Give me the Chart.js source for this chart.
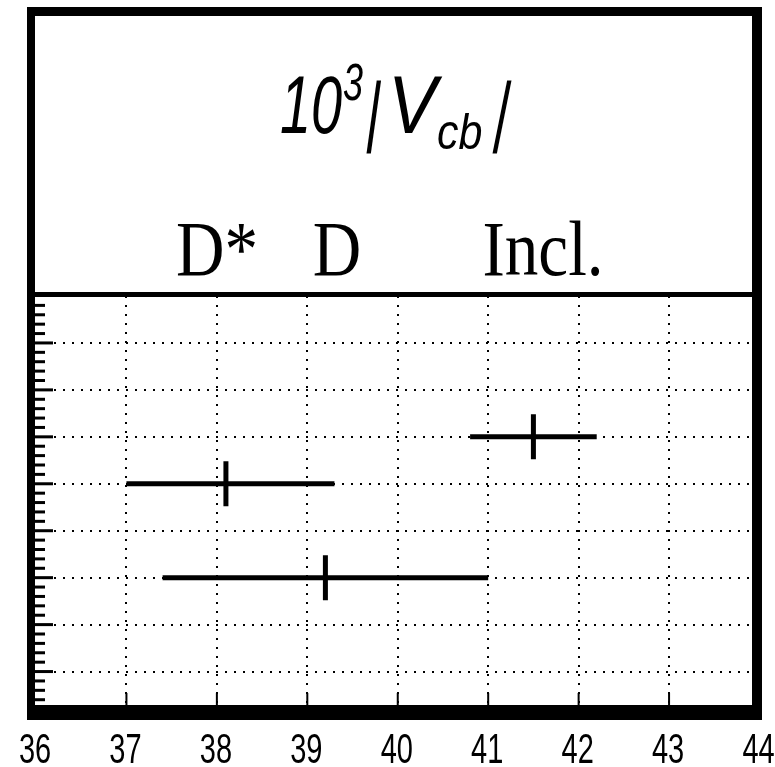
<!DOCTYPE html>
<html>
<head>
<meta charset="utf-8">
<title>Vcb</title>
<script src="https://cdn.jsdelivr.net/npm/chart.js@4/dist/chart.umd.min.js"></script>
<style>
  body { margin: 0; background: #fff; }
  #chart-box { width: 775px; height: 767px; }
</style>
</head>
<body>
<div id="chart-box"><canvas id="vcb-chart"></canvas></div>
<script>
'use strict';

// Measurements of 10^3 |Vcb|

const labels = ['D*', 'D', 'Incl.'];
const rows = [5, 3, 6];
const centers = [38.1, 39.2, 41.5];
const lows = [37.0, 37.4, 40.8];
const highs = [39.3, 41.0, 42.2];
const xTicks = [36, 37, 38, 39, 40, 41, 42, 43, 44];
const yMin = 0;
const yMax = 9;

// Half height of the little vertical mark at each central value
const markHalf = 0.48;

// Where the method names sit in the header box (px)
const nameX = [217, 337, 543];

// Build the error bars: one horizontal line per range, one short vertical line at the centre

function lineStyle(name, points) {
    return {
        label: name,
        data: points,
        showLine: true,
        borderColor: '#000',
        borderWidth: 5,
        borderCapStyle: 'butt',
        pointRadius: 0,
        fill: false
    };
}

function errorBars() {
    let sets = [];
    for (let i = 0; i < labels.length; i++) {
        sets.push(lineStyle(labels[i], [
            {x: lows[i], y: rows[i]},
            {x: highs[i], y: rows[i]}
        ]));
        sets.push(lineStyle(labels[i] + ' centre', [
            {x: centers[i], y: rows[i] - markHalf},
            {x: centers[i], y: rows[i] + markHalf}
        ]));
    }
    return sets;
}

// Hide the grid lines that fall on the frame

function innerGrid(min, max) {
    return function (ctx) {
        let v = ctx.tick ? ctx.tick.value : min;
        return (v <= min || v >= max) ? 'rgba(0,0,0,0)' : '#000';
    };
}

// Text drawn squeezed horizontally (and leaned over when skew is given)

function squeezed(ctx, text, x, y, font, sx, align, skew) {
    ctx.save();
    ctx.font = font;
    ctx.textAlign = align || 'left';
    ctx.textBaseline = 'alphabetic';
    ctx.fillStyle = '#000';
    ctx.translate(x, y);
    if (skew) {
        ctx.transform(1, 0, -skew, 1, 0, 0);
    }
    ctx.scale(sx, 1);
    ctx.fillText(text, 0, 0);
    ctx.restore();
}

// Frame, header, axis ticks and numbers

const framePlugin = {
    id: 'frame',
    afterDraw(chart) {
        let ctx = chart.ctx;
        let xs = chart.scales.x;
        let ys = chart.scales.y;

        ctx.save();
        ctx.strokeStyle = '#000';
        ctx.lineCap = 'butt';

        // small ticks on the left edge, longer ones on whole numbers
        ctx.lineWidth = 3;
        for (let k = 1; k < (yMax - yMin) * 5; k++) {
            let v = yMin + k / 5;
            let py = ys.getPixelForValue(v);
            let whole = k % 5 === 0;
            ctx.beginPath();
            ctx.moveTo(34, py);
            ctx.lineTo(whole ? 53 : 45, py);
            ctx.stroke();
        }

        // ticks standing on the bottom axis
        ctx.lineWidth = 2;
        for (let i = 1; i < xTicks.length - 1; i++) {
            let px = xs.getPixelForValue(xTicks[i]);
            ctx.beginPath();
            ctx.moveTo(px, 706);
            ctx.lineTo(px, 693);
            ctx.stroke();
        }

        // outer frame
        ctx.fillStyle = '#000';
        ctx.fillRect(27, 7, 735, 9);
        ctx.fillRect(27, 7, 8, 713);
        ctx.fillRect(752, 7, 10, 713);
        ctx.fillRect(27, 705, 735, 15);
        ctx.fillRect(27, 292, 735, 5);
        ctx.restore();

        // axis numbers
        for (let i = 0; i < xTicks.length; i++) {
            let px = xs.getPixelForValue(xTicks[i]);
            squeezed(ctx, String(xTicks[i]), px - 1, 763, '42px "Liberation Sans"', 0.69, 'center');
        }

        // header: 10^3 |Vcb|
        let big = 'italic 81px "Liberation Sans"';
        squeezed(ctx, '10', 280, 133, big, 0.69);
        squeezed(ctx, '3', 343, 100, 'italic 52px "Liberation Sans"', 0.69);
        squeezed(ctx, '|', 364, 137, '78px "Liberation Sans"', 0.69, 'left', 0.14);
        squeezed(ctx, 'V', 388, 133, big, 0.9);
        squeezed(ctx, 'cb', 437, 149, 'italic 50px "Liberation Sans"', 0.86);
        squeezed(ctx, '|', 491, 137, '78px "Liberation Sans"', 0.69, 'left', 0.2);

        // method names
        for (let i = 0; i < labels.length; i++) {
            squeezed(ctx, labels[i], nameX[i], 275, '79px "Liberation Serif"', 0.85, 'center');
        }
    }
};

// Draw the chart

let chartEl = document.getElementById('vcb-chart');

let vcbChart = new Chart(chartEl.getContext('2d'), {
    type: 'scatter',
    data: {datasets: errorBars()},
    options: {
        responsive: true,
        maintainAspectRatio: false,
        animation: false,
        events: [],
        layout: {
            padding: {left: 36, right: 15.5, top: 296, bottom: 48.5}
        },
        scales: {
            x: {
                type: 'linear',
                min: xTicks[0],
                max: xTicks[xTicks.length - 1],
                ticks: {display: false, stepSize: 1},
                grid: {color: innerGrid(xTicks[0], xTicks[xTicks.length - 1]), lineWidth: 2, drawTicks: false},
                border: {display: false, dash: [2, 7]}
            },
            y: {
                type: 'linear',
                min: yMin,
                max: yMax,
                ticks: {display: false, stepSize: 1},
                grid: {color: innerGrid(yMin, yMax), lineWidth: 2, drawTicks: false},
                border: {display: false, dash: [2, 7]}
            }
        },
        plugins: {
            legend: {display: false},
            tooltip: {enabled: false}
        }
    },
    plugins: [framePlugin]
});
</script>
</body>
</html>
